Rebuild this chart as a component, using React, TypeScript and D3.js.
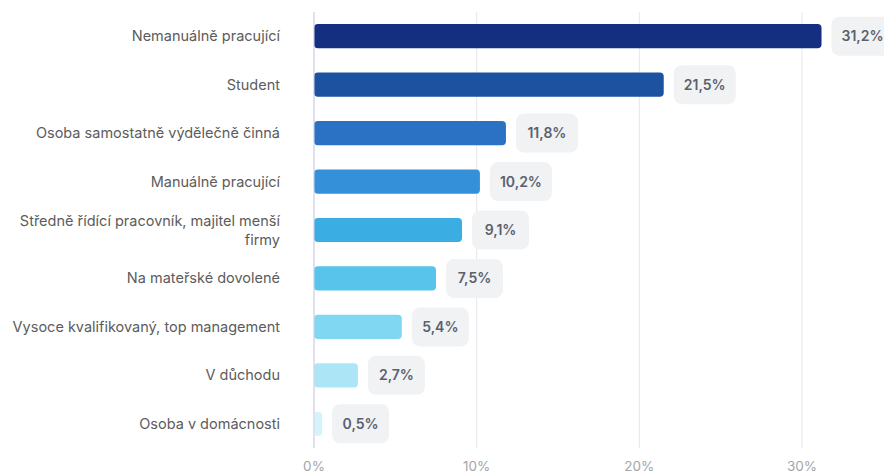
import React from "react";
import * as d3 from "d3";

const WIDTH = 884;
const HEIGHT = 473;
const MARGIN = { top: 12, right: 82, bottom: 25, left: 314 };

const categories = [
  "Nemanuálně pracující",
  "Student",
  "Osoba samostatně výdělečně činná",
  "Manuálně pracující",
  "Středně řídící pracovník, majitel menší firmy",
  "Na mateřské dovolené",
  "Vysoce kvalifikovaný, top management",
  "V důchodu",
  "Osoba v domácnosti",
];
const values = [31.2, 21.5, 11.8, 10.2, 9.1, 7.5, 5.4, 2.7, 0.5];
const colors = [
  "#142f80",
  "#1c52a0",
  "#2b72c4",
  "#3390d9",
  "#3aade3",
  "#58c4ec",
  "#80d7f2",
  "#ace5f6",
  "#d4f3fb",
];
const ticks = [0, 10, 20, 30];

// split long category labels onto two lines
const wrapLabel = (s: string) =>
  s.length > 38 ? [s.slice(0, s.lastIndexOf(" ")), s.slice(s.lastIndexOf(" ") + 1)] : [s];

const fmt = (v: number) => v.toFixed(1).replace(".", ",") + "%";

export default function App() {
  const bottom = HEIGHT - MARGIN.bottom;
  const xScale = d3
    .scaleLinear()
    .domain([0, 30])
    .range([MARGIN.left, WIDTH - MARGIN.right]);
  const yScale = d3
    .scaleBand()
    .domain(categories)
    .range([MARGIN.top, bottom])
    .paddingInner(0.5)
    .paddingOuter(0.25);

  return (
    <svg
      width={WIDTH}
      height={HEIGHT}
      style={{ position: "absolute", left: 0, top: 0, fontFamily: "Inter, sans-serif" }}
    >
      <rect width={WIDTH} height={HEIGHT} fill="#fff" />
      {ticks.map((t) => (
        <g key={t}>
          <line
            x1={xScale(t)}
            x2={xScale(t)}
            y1={MARGIN.top}
            y2={bottom}
            stroke={t === 0 ? "#d3d6ec" : "#e6e7ea"}
            strokeWidth={1}
          />
          <text
            x={xScale(t)}
            y={bottom + 23}
            textAnchor="middle"
            fontSize={13.5}
            fill="#a3a5ab"
          >
            {t}%
          </text>
        </g>
      ))}
      {categories.map((c, i) => {
        const y = yScale(c) ?? 0;
        const h = yScale.bandwidth();
        const cy = y + h / 2;
        const xEnd = xScale(values[i]);
        const label = fmt(values[i]);
        const boxW = label.length > 4 ? 62 : 57;
        const lines = wrapLabel(c);
        return (
          <g key={c}>
            <text
              x={280}
              textAnchor="end"
              fontSize={14.5}
              fill="#5c5c5c"
            >
              {lines.map((l, j) => (
                <tspan
                  key={j}
                  x={280}
                  y={cy + 5 + (j - (lines.length - 1) / 2) * 19}
                >
                  {l}
                </tspan>
              ))}
            </text>
            <rect
              x={xScale(0)}
              y={y}
              width={Math.max(0, xEnd - xScale(0))}
              height={h}
              rx={4}
              fill={colors[i]}
            />
            <rect
              x={xEnd + 10}
              y={cy - 19.5}
              width={boxW}
              height={39}
              rx={8}
              fill="#f1f2f3"
            />
            <text
              x={xEnd + 10 + boxW / 2}
              y={cy + 5}
              textAnchor="middle"
              fontSize={14}
              fontWeight={600}
              fill="#5a616e"
            >
              {label}
            </text>
          </g>
        );
      })}
      <line
        x1={xScale(0)}
        x2={xScale(0)}
        y1={MARGIN.top}
        y2={bottom}
        stroke="#d3d6ec"
      />
    </svg>
  );
}
